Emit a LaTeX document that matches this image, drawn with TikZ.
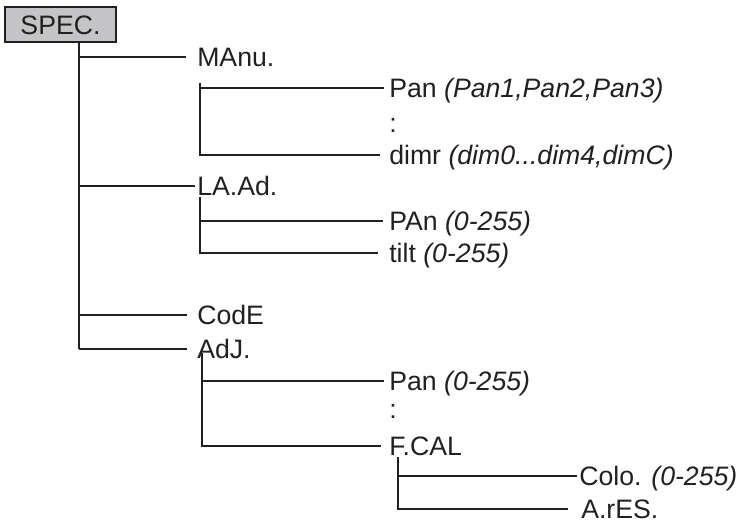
\documentclass[tikz,border=0pt]{standalone}
\usepackage{fontspec}
\setmainfont{Liberation Sans}
\definecolor{ink}{RGB}{35,31,32}
\definecolor{boxgray}{RGB}{196,196,198}
\tikzset{
  item/.style={anchor=west, inner xsep=0pt, inner ysep=0pt, text height=14.3pt, text depth=0pt,
    font=\fontsize{20}{24}\selectfont, text=ink},
  branch/.style={draw=ink, line width=1.7pt}
}
\begin{document}
\begin{tikzpicture}[x=0.75pt,y=-0.75pt]
\useasboundingbox (0,0) rectangle (742,528);

% Root box
\node[item, anchor=center, draw=ink, line width=1.7pt, fill=boxgray,
  minimum width=83.25pt, minimum height=26.25pt] (spec) at (60.5,24.5) {SPEC.};

% First level
\node[item] (manu) at (197,57) {MAnu.};
\node[item] (laad) at (197,186) {LA.Ad.};
\node[item] (code) at (197,315) {CodE};
\node[item] (adj) at (197,349) {AdJ.};

% Second level
\node[item] (pan) at (389,88) {Pan \textit{(Pan1,Pan2,Pan3)}};
\node[item] (dots1) at (389,123) {:};
\node[item] (dimr) at (389,155) {dimr \textit{(dim0...dim4,dimC)}};
\node[item] (pan2) at (389,221) {PAn \textit{(0-255)}};
\node[item] (tilt) at (389,253) {tilt \textit{(0-255)}};
\node[item] (pan3) at (389,381) {Pan \textit{(0-255)}};
\node[item] (dots2) at (389,409) {:};
\node[item] (fcal) at (389,446) {F.CAL};

% Third level
\node[item] (colo) at (579,476) {Colo. \textit{(0-255)}};
\node[item] (ares) at (581,509) {A.rES.};

% Trunk and first branches
\coordinate (trunk) at (79,43);
\draw[branch] (trunk) -- (trunk |- adj.west);
\draw[branch, shorten >=8pt] (trunk |- manu.west) -- (manu.west);
\draw[branch, shorten >=1.5pt] (trunk |- laad.west) -- (laad.west);
\draw[branch, shorten >=7.5pt] (trunk |- code.west) -- (code.west);
\draw[branch, shorten >=7.5pt] (trunk |- adj.west) -- (adj.west);

% MAnu. subtree
\coordinate (manu-v) at (200,83);
\draw[branch, shorten >=4pt] (manu-v) |- (pan.west);
\draw[branch, shorten >=7pt] (manu-v) |- (dimr.west);

% LA.Ad. subtree
\coordinate (laad-v) at (200,197);
\draw[branch, shorten >=4.5pt] (laad-v) |- (pan2.west);
\draw[branch, shorten >=8pt] (laad-v) |- (tilt.west);

% AdJ. subtree
\coordinate (adj-v) at (202,353);
\draw[branch, shorten >=4pt] (adj-v) |- (pan3.west);
\draw[branch, shorten >=6pt] (adj-v) |- (fcal.west);

% F.CAL subtree
\coordinate (fcal-v) at (398,457);
\draw[branch, shorten >=1.5pt] (fcal-v) |- (colo.west);
\draw[branch, shorten >=10pt] (fcal-v) |- (ares.west);

\end{tikzpicture}
\end{document}
